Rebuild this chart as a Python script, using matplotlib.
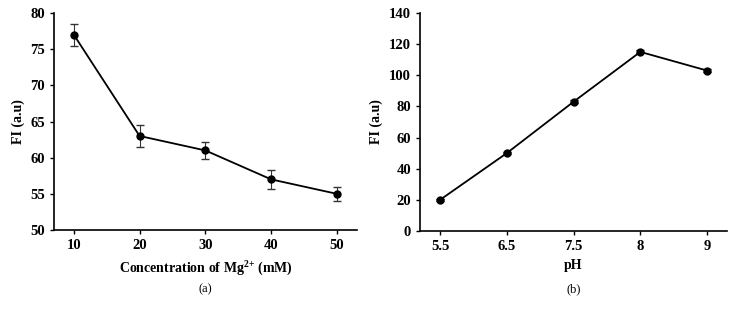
import matplotlib.pyplot as plt

plt.rcParams['font.family'] = 'Liberation Serif'
plt.rcParams['font.weight'] = 'bold'
plt.rcParams['mathtext.fontset'] = 'custom'
plt.rcParams['mathtext.rm'] = 'Liberation Serif:bold'
plt.rcParams['mathtext.bf'] = 'Liberation Serif:bold'

# Data
mg_labels = ["10", "20", "30", "40", "50"]
mg_fi = [77, 63, 61, 57, 55]
mg_err = [1.5, 1.5, 1.2, 1.3, 1.0]

ph_labels = ["5.5", "6.5", "7.5", "8", "9"]
ph_fi = [20, 50, 83, 115, 103]
ph_err = [0.8, 0.8, 0.8, 1.0, 1.0]

fig = plt.figure(figsize=(7.33, 3.16), dpi=100)
ax1 = fig.add_axes([0.0737, 0.272, 0.413, 0.687])
ax2 = fig.add_axes([0.573, 0.269, 0.419, 0.690])

def style(ax):
    for s in ["top", "right"]:
        ax.spines[s].set_visible(False)
    for s in ["left", "bottom"]:
        ax.spines[s].set_linewidth(1.2)
    ax.tick_params(direction="out", length=3, width=1, labelsize=10.5)
    for lab in ax.get_xticklabels() + ax.get_yticklabels():
        lab.set_fontweight("bold")

x = list(range(len(mg_labels)))
ax1.errorbar(x, mg_fi, yerr=mg_err, color="black", marker="o", markersize=5,
             linewidth=1.3, capsize=3, elinewidth=0.8, ecolor="#333333")
ax1.set_xlim(-0.3, 4.3)
ax1.set_ylim(50, 80)
ax1.set_xticks(x)
ax1.set_xticklabels(mg_labels)
ax1.set_yticks(range(50, 81, 5))
ax1.set_ylabel("FI (a.u)", fontsize=10, fontweight="bold")
ax1.set_xlabel(r"Concentration of Mg$^{\mathbf{2{+}}}$ (mM)", fontsize=10, fontweight="bold")
style(ax1)
fig.text(0.2805, 0.075, "(a)", ha="center", fontsize=9, fontweight="normal")

x2 = list(range(len(ph_labels)))
ax2.errorbar(x2, ph_fi, yerr=ph_err, color="black", marker="o", markersize=5,
             linewidth=1.3, capsize=3, elinewidth=0.8)
ax2.set_xlim(-0.3, 4.3)
ax2.set_ylim(0, 140)
ax2.set_xticks(x2)
ax2.set_xticklabels(ph_labels)
ax2.set_yticks(range(0, 141, 20))
ax2.set_ylabel("FI (a.u)", fontsize=10, fontweight="bold")
ax2.set_xlabel("pH", fontsize=10, fontweight="bold")
style(ax2)
fig.text(0.782, 0.075, "(b)", ha="center", fontsize=9, fontweight="normal")

fig.savefig("out.png", dpi=100)
